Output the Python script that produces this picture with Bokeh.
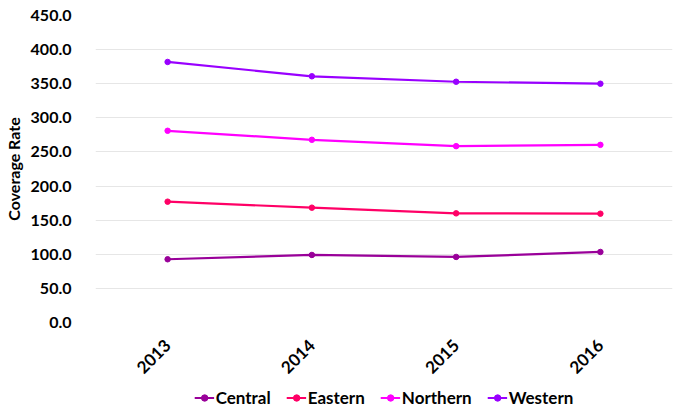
import math
from bokeh.plotting import figure
from bokeh.layouts import column
from bokeh.models import Legend, LegendItem, FactorRange, Range1d, NumeralTickFormatter, SingleIntervalTicker
from bokeh.embed import file_html
from bokeh.resources import INLINE

years = ["2013", "2014", "2015", "2016"]
central = [92.7, 99.0, 96.1, 103.4]
eastern = [177.1, 168.3, 160.0, 159.5]
northern = [281.0, 267.8, 258.5, 260.4]
western = [381.9, 360.9, 352.9, 350.0]

series_names = ["Central", "Eastern", "Northern", "Western"]
series_values = [central, eastern, northern, western]
series_colors = ["#990099", "#FF0066", "#FF00FF", "#9900FF"]

FONT = "Lato"

p = figure(x_range=FactorRange(*years), y_range=Range1d(0, 450),
           width=679, height=384, output_backend="svg", toolbar_location=None,
           min_border_left=92, min_border_right=7, min_border_top=15, min_border_bottom=62)
p.outline_line_color = None
p.background_fill_color = "white"

for name, vals, col in zip(series_names, series_values, series_colors):
    p.line(years, vals, line_color=col, line_width=2.2)
    p.scatter(years, vals, size=5.5, fill_color=col, line_color=col)

ticker = SingleIntervalTicker(interval=50)
p.yaxis.ticker = ticker
p.ygrid.ticker = ticker
p.yaxis.formatter = NumeralTickFormatter(format="0.0")
p.ygrid.grid_line_color = "#e6e6e6"
p.ygrid.grid_line_width = 1
p.xgrid.visible = False

for ax in (p.xaxis[0], p.yaxis[0]):
    ax.axis_line_color = None
    ax.major_tick_line_color = None
    ax.minor_tick_line_color = None
    ax.major_tick_out = 0
    ax.major_tick_in = 0
    ax.major_label_text_font = FONT
    ax.major_label_text_font_style = "bold"
    ax.major_label_text_font_size = "16px"
    ax.major_label_text_color = "#000000"

p.yaxis.major_label_standoff = 20
p.yaxis.axis_label = "Coverage Rate"
p.yaxis.axis_label_text_font = FONT
p.yaxis.axis_label_text_font_style = "bold"
p.yaxis.axis_label_text_font_size = "16px"
p.yaxis.axis_label_text_color = "#000000"
p.yaxis.axis_label_standoff = 5

p.xaxis.major_label_orientation = math.pi / 4
p.xaxis.major_label_text_font_size = "17px"
p.xaxis.major_label_standoff = 20

# legend strip below the chart (its series sit outside its visible y range)
lg = figure(width=679, height=26, output_backend="svg", toolbar_location=None,
            x_axis_type=None, y_axis_type=None, x_range=FactorRange(*years),
            y_range=Range1d(1000, 1001), min_border=0)
lg.outline_line_color = None
lg.xgrid.visible = False
lg.ygrid.visible = False
items = []
for name, vals, col in zip(series_names, series_values, series_colors):
    l = lg.line(years, vals, line_color=col, line_width=2.2)
    s = lg.scatter(years, vals, size=5.5, fill_color=col, line_color=col)
    items.append(LegendItem(label=name, renderers=[l, s]))

legend = Legend(items=items, orientation="horizontal", location="center",
                label_text_font=FONT, label_text_font_style="bold",
                label_text_font_size="17px", label_text_color="#000000",
                border_line_color=None, background_fill_alpha=0,
                glyph_width=20, glyph_height=16, label_standoff=2, spacing=15,
                padding=2, margin=0)
lg.add_layout(legend, "center")

layout = column(p, lg, spacing=0)
open("out.html", "w").write(file_html(layout, INLINE))
